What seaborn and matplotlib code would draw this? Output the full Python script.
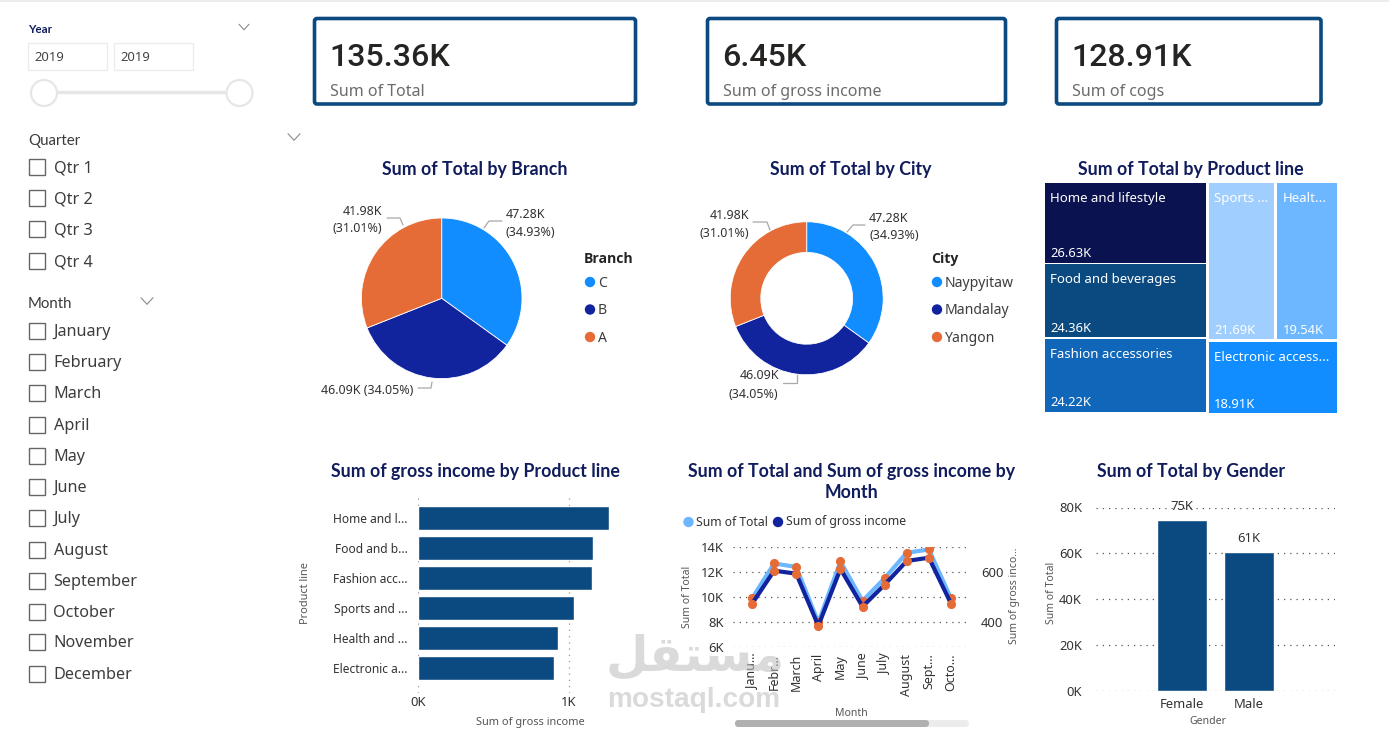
import matplotlib
matplotlib.use("Agg")
import matplotlib.pyplot as plt
from matplotlib.patches import Rectangle, FancyBboxPatch, Circle
from matplotlib.ticker import FuncFormatter
import pandas as pd
import seaborn as sns

sns.set_theme(style="white")
plt.rcParams["font.family"] = ["Noto Sans", "DejaVu Sans"]

# ---------- data ----------
kpi_values = ["135.36K", "6.45K", "128.91K"]
kpi_names = ["Sum of Total", "Sum of gross income", "Sum of cogs"]
quarters = ["Qtr 1", "Qtr 2", "Qtr 3", "Qtr 4"]
month_names = ["January", "February", "March", "April", "May", "June", "July",
               "August", "September", "October", "November", "December"]
branches = ["C", "B", "A"]
cities = ["Naypyitaw", "Mandalay", "Yangon"]
region_totals = [47.28, 46.09, 41.98]
products_tree = ["Home and lifestyle", "Food and beverages", "Fashion accessories",
                 "Sports ...", "Healt...", "Electronic access..."]
product_totals = [26.63, 24.36, 24.22, 21.69, 19.54, 18.91]
products_bar = ["Home and l...", "Food and b...", "Fashion acc...",
                "Sports and ...", "Health and ...", "Electronic a..."]
product_income = [1268, 1160, 1153, 1033, 930, 900]
months_short = ["Janu...", "Febr...", "March", "April", "May", "June", "July",
                "August", "Sept...", "Octo..."]
month_total = [9870, 12680, 12400, 7950, 12840, 9680, 11500, 13540, 13800, 9870]
month_income = [472, 605, 593, 384, 612, 461, 549, 644, 657, 473]
genders = ["Female", "Male"]
gender_total = [74600, 60800]

# ---------- styles ----------
W, H = 1389, 729
BLUE, NAVY, ORANGE = "#118DFF", "#12239E", "#E66C37"
DARK = "#0B4A80"
TITLE = "#101C5C"
TEXT = "#333333"
TREE_COLORS = ["#0A1250", "#0B4A80", "#1066B8", "#A0CEFF", "#6CB7FF", "#118DFF"]
TITLE_FONT = "Lato"
TITLE_SIZE = 17.8


def pt(px):
    return px * 0.72


fig = plt.figure(figsize=(W / 100, H / 100), dpi=100, facecolor="white")


def px_axes(left, top, right, bottom, **kw):
    return fig.add_axes([left / W, 1 - bottom / H, (right - left) / W, (bottom - top) / H], **kw)


bg = px_axes(0, 0, W, H)
bg.set_xlim(0, W)
bg.set_ylim(H, 0)
bg.axis("off")
bg.add_patch(Rectangle((0, 0), W, 2, color="#ececec", lw=0))


def put(x, y, s, size=14, color=TEXT, ha="left", va="center", weight="normal", family=None, ax=bg, **kw):
    return ax.text(x, y + 1, s, fontsize=pt(size), color=color, ha=ha, va=va, weight=weight,
                   family=family or ["Noto Sans", "DejaVu Sans"], **kw)


def chevron(x, y, s=5):
    bg.plot([x - s, x, x + s], [y - s * 0.55, y + s * 0.55, y - s * 0.55], color="#8a8a8a", lw=0.8)


def title(x, y, s):
    put(x, y, s, size=TITLE_SIZE, color=TITLE, ha="center", weight="bold", family=TITLE_FONT)


# ---------- slicers ----------
put(28, 28.5, "Year", size=11.5, color=TITLE, weight="bold", family=TITLE_FONT)
chevron(244, 27)
for l, r in [(27.5, 107), (113.5, 193)]:
    bg.add_patch(Rectangle((l, 43), r - l, 27, fc="white", ec="#ececec", lw=1))
    put(l + 7, 56.5, "2019", size=13, color="#444444")
bg.plot([44, 239], [92, 92], color="#e6e6e6", lw=2.5, solid_capstyle="butt")
for cx in (44, 239.5):
    bg.add_patch(Circle((cx, 93), 13, fc="white", ec="#e6e6e6", lw=1.6, zorder=3))

put(28, 139.5, "Quarter", size=15, color="#3a3a3a", family=TITLE_FONT)
chevron(294, 137, 6)
put(28, 303, "Month", size=15, color="#3a3a3a", family=TITLE_FONT)
chevron(147, 301, 6)
for names, ys in [(quarters, [167, 198, 229, 261]),
                  (month_names, [331, 362, 393, 425, 456, 487, 518, 550, 581, 612, 642, 674])]:
    for name, y in zip(names, ys):
        bg.add_patch(Rectangle((28.5, y - 8.5), 16.5, 16.5, fc="white", ec="#666666", lw=1))
        put(53.5, y, name, size=16.2, color="#3d3d3d")

# ---------- KPI cards ----------
for (l, r), v, n in zip([(314.5, 635.5), (707.5, 1005.5), (1056.5, 1321)], kpi_values, kpi_names):
    bg.add_patch(FancyBboxPatch((l, 18.5), r - l, 85.5, boxstyle="round,pad=0,rounding_size=2.5",
                                fc="white", ec=DARK, lw=2.6))
    put(l + 15, 56, v, size=32.2, color="#252423", weight=500, family="Roboto")
    put(l + 15.5, 90.5, n, size=16, color="#6b6b6b")


# ---------- pies ----------
def pie_chart(cx, cy, radius, wedge_width):
    ax = px_axes(cx - radius, cy - radius, cx + radius, cy + radius)
    kw = dict(edgecolor="white", linewidth=0.6)
    if wedge_width:
        kw["width"] = wedge_width
    ax.pie(region_totals, colors=[BLUE, NAVY, ORANGE], startangle=90, counterclock=False,
           radius=1, wedgeprops=kw)
    ax.set_xlim(-1, 1)
    ax.set_ylim(-1, 1)
    ax.set_aspect("equal")
    ax.patch.set_alpha(0)
    for a in ax.patches:
        a.set_clip_on(False)


def leader(xs, ys):
    bg.plot(xs, ys, color="#a8a8a8", lw=0.9)


def legend(x, ttl, names):
    put(x - 6, 258, ttl, size=14, color="#252423", weight="bold", family="Open Sans")
    for y, name, c in zip([282, 309.5, 337], names, [BLUE, NAVY, ORANGE]):
        bg.add_patch(Circle((x, y), 5.2, color=c, lw=0))
        put(x + 8, y, name, size=14, color="#3d3d3d")


title(475, 168.5, "Sum of Total by Branch")
pie_chart(441.7, 298.3, 80.3, None)
leader([484, 489, 502], [228, 221, 221])
leader([403, 400, 387], [225, 218, 218])
leader([432, 431, 418], [382, 388, 388])
put(506, 213, "47.28K", size=12.5)
put(506, 231, "(34.93%)", size=12.5)
put(382, 210, "41.98K", size=12.5, ha="right")
put(382, 227, "(31.01%)", size=12.5, ha="right")
put(413, 389, "46.09K (34.05%)", size=12.5, ha="right")
legend(590, "Branch", branches)

title(851, 168.5, "Sum of Total by City")
pie_chart(806.7, 298.3, 76.5, 0.4)
leader([847, 853, 865], [232, 225, 225])
leader([770, 767, 753], [230, 222, 222])
leader([797, 797, 783], [375, 383, 383])
put(869, 217, "47.28K", size=12.5)
put(869, 234, "(34.93%)", size=12.5)
put(749, 214, "41.98K", size=12.5, ha="right")
put(749, 232, "(31.01%)", size=12.5, ha="right")
put(779, 374, "46.09K", size=12.5, ha="right")
put(778, 393, "(34.05%)", size=12.5, ha="right")
legend(937, "City", cities)

# ---------- treemap ----------
title(1191, 168.5, "Sum of Total by Product line")
tm = px_axes(1045, 183, 1337, 413)
tm.set_xlim(0, 292)
tm.set_ylim(230, 0)
tm.axis("off")
TW, TH, GAP = 292, 230, 3
left_sum = sum(product_totals[:3])
right_sum = sum(product_totals[3:])
left_w = TW * left_sum / (left_sum + right_sum)
rects = []
y0 = 0
for v in product_totals[:3]:
    h = TH * v / left_sum
    rects.append((0, y0, left_w - GAP / 2, h - GAP / 2))
    y0 += h
top_sum = product_totals[3] + product_totals[4]
top_h = TH * top_sum / right_sum
sports_w = (TW - left_w) * product_totals[3] / top_sum
rects.append((left_w + GAP / 2, 0, sports_w - GAP, top_h - GAP / 2))
rects.append((left_w + sports_w + GAP / 2, 0, TW - left_w - sports_w - GAP / 2, top_h - GAP / 2))
rects.append((left_w + GAP / 2, top_h + GAP / 2, TW - left_w - GAP / 2, TH - top_h - GAP / 2))
for (x, y, w, h), name, val, c in zip(rects, products_tree, product_totals, TREE_COLORS):
    tm.add_patch(Rectangle((x, y), w, h, color=c, lw=0))
    put(x + 5.5, y + 14.5, name, size=13.2, color="white", ax=tm)
    put(x + 5.5, y + h - 10, f"{val:.2f}K", size=13, color="white", ax=tm)

# ---------- horizontal bars ----------
DOT = (0, (1, 4))
title(475, 470.5, "Sum of gross income by Product line")
ax = px_axes(418, 498, 612, 693)
df_bar = pd.DataFrame({"product": products_bar, "income": product_income})
sns.barplot(df_bar, y="product", x="income", color=DARK, saturation=1, width=0.77, ax=ax, zorder=3)
ax.set_xlim(0, 194 / 151 * 1000)
ax.set_ylim(5 + 25 / 30, -20 / 30)
ax.set_xticks([0, 1000])
ax.set_xticklabels(["0K", "1K"])
ax.grid(axis="x", color="#999999", linestyle=DOT, lw=0.9)
ax.grid(axis="y", visible=False)
sns.despine(ax=ax, left=True, bottom=True)
ax.tick_params(axis="y", length=0, pad=7.5, labelsize=pt(12), labelcolor=TEXT)
ax.tick_params(axis="x", length=0, pad=2.5, labelsize=pt(13), labelcolor=TEXT)
ax.set_xlabel("")
ax.set_ylabel("")
ax.patch.set_alpha(0)
put(530, 721, "Sum of gross income", size=11, color="#555555", ha="center")
put(306, 592, "Product line", size=11, color="#555555", ha="center", rotation=90)

# ---------- lines ----------
put(851.5, 470.5, "Sum of Total and Sum of gross income by", size=TITLE_SIZE, color=TITLE, ha="center",
    weight="bold", family=TITLE_FONT)
put(851.5, 491.5, "Month", size=TITLE_SIZE, color=TITLE, ha="center", weight="bold", family=TITLE_FONT)
bg.add_patch(Circle((688.5, 522), 5.2, color="#6CB7FF", lw=0))
put(696, 521, "Sum of Total", size=12.2)
bg.add_patch(Circle((778, 522), 5.2, color=NAVY, lw=0))
put(786, 521, "Sum of gross income", size=12.2)

ax = px_axes(733, 547, 967, 646.7)
df_line = pd.DataFrame({"month": months_short, "total": month_total, "income": month_income})
sns.lineplot(df_line, x="month", y="total", sort=False, color="#6CB7FF", lw=3.0, ax=ax,
             marker="o", markersize=5.8, markerfacecolor=ORANGE, markeredgecolor=ORANGE, zorder=3)
ax.set_xlim(-19 / 22.11, 9 + 16 / 22.11)
ax.set_ylim(6000, 14000)
ax.set_yticks([6000, 8000, 10000, 12000, 14000])
ax.yaxis.set_major_formatter(FuncFormatter(lambda v, _: f"{v / 1000:.0f}K"))
ax.grid(axis="y", color="#555555", linestyle=DOT, lw=0.9)
ax.grid(axis="x", visible=False)
ax.tick_params(axis="y", length=0, pad=6.5, labelsize=pt(13), labelcolor=TEXT)
ax.tick_params(axis="x", length=0, pad=5, labelsize=pt(12.5), labelcolor=TEXT, labelrotation=90)
ax.set_xlabel("")
ax.set_ylabel("")
ax.patch.set_alpha(0)
ax2 = ax.twinx()
sns.lineplot(df_line, x="month", y="income", sort=False, color=NAVY, lw=3.0, ax=ax2,
             marker="o", markersize=5.8, markerfacecolor=ORANGE, markeredgecolor=ORANGE, zorder=4)
ax2.set_ylim(300, 700)
ax2.set_yticks([400, 600])
ax2.tick_params(axis="y", length=0, pad=10, labelsize=pt(13), labelcolor=TEXT)
ax2.set_xlabel("")
ax2.set_ylabel("")
for a in (ax, ax2):
    for s in a.spines.values():
        s.set_visible(False)
ax2.patch.set_alpha(0)
put(688, 596, "Sum of Total", size=10.5, color="#555555", ha="center", rotation=90)
put(1015, 595, "Sum of gross inco...", size=10.5, color="#555555", ha="center", rotation=90)
put(851.5, 712.5, "Month", size=10.5, color="#555555", ha="center")
bg.add_patch(FancyBboxPatch((735, 720), 234, 7, boxstyle="round,pad=0,rounding_size=3.5", fc="#ececec", lw=0))
bg.add_patch(FancyBboxPatch((735, 720), 194, 7, boxstyle="round,pad=0,rounding_size=3.5", fc="#b0b0b0", lw=0))

# ---------- gender ----------
title(1191, 470.5, "Sum of Total by Gender")
ax = px_axes(1096, 507.5, 1335, 691)
df_g = pd.DataFrame({"gender": genders, "total": gender_total})
sns.barplot(df_g, x="gender", y="total", color=DARK, saturation=1, width=0.75, ax=ax, zorder=3)
ax.set_xlim(-86 / 67, 1 + 86 / 67)
ax.set_ylim(0, 80000)
ax.set_yticks([0, 20000, 40000, 60000, 80000])
ax.yaxis.set_major_formatter(FuncFormatter(lambda v, _: f"{v / 1000:.0f}K"))
ax.grid(axis="y", color="#555555", linestyle=DOT, lw=0.9)
ax.grid(axis="x", visible=False)
sns.despine(ax=ax, left=True, bottom=True)
ax.tick_params(axis="y", length=0, pad=10, labelsize=pt(13), labelcolor=TEXT)
ax.tick_params(axis="x", length=0, pad=5, labelsize=pt(13), labelcolor=TEXT)
for i, v in enumerate(gender_total):
    ax.annotate(f"{v / 1000:.0f}K", (i, v), xytext=(0, 5), textcoords="offset points", ha="center",
                va="bottom", fontsize=pt(13), color=TEXT, zorder=5, clip_on=False)
ax.set_xlabel("")
ax.set_ylabel("")
ax.patch.set_alpha(0)
put(1052, 592, "Sum of Total", size=10.5, color="#555555", ha="center", rotation=90)
put(1208, 721, "Gender", size=10.5, color="#555555", ha="center")

# ---------- watermark ----------
top = px_axes(0, 0, W, H)
top.set_xlim(0, W)
top.set_ylim(H, 0)
top.axis("off")
top.patch.set_alpha(0)
put(695, 655, "\uFEDE\uFED8\uFE98\uFEB4\uFEE3", size=49, color="#bdbdbd", ha="center", weight="bold",
    family="DejaVu Sans", ax=top, alpha=0.55)
put(694, 699, "mostaql.com", size=28, color="#bdbdbd", ha="center", weight="bold",
    family="Liberation Sans", ax=top, alpha=0.55)

fig.savefig("out.png", dpi=100)
